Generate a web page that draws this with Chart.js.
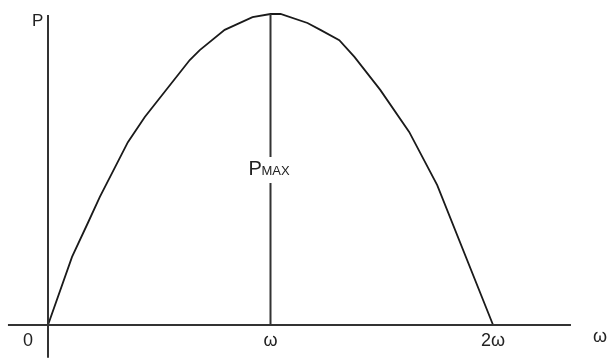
<!DOCTYPE html>
<html>
<head>
<meta charset="utf-8">
<title>P - ω</title>
<script src="https://cdn.jsdelivr.net/npm/chart.js@4.4.1/dist/chart.umd.min.js"></script>
<style>
  html, body { margin: 0; padding: 0; background: #fff; }
  canvas { display: block; }
</style>
</head>
<body>
<canvas id="curvaChart" width="607" height="360"></canvas>
<script>
// ========================
// DATOS
// ========================
const curveX = [0, 0.108, 0.179, 0.233, 0.359, 0.435, 0.637, 0.682, 0.794, 0.919, 1.0, 1.045, 1.166, 1.224, 1.309, 1.377, 1.493, 1.623, 1.749, 2.0];
const curveY = [0, 0.219, 0.328, 0.412, 0.588, 0.669, 0.852, 0.884, 0.949, 0.990, 1.0, 1.0, 0.971, 0.949, 0.916, 0.862, 0.756, 0.621, 0.450, 0];

const tickValues = [0, 1, 2];
const tickLabels = ["0", "ω", "2ω"];
const axisLabelY = "P";
const axisLabelX = "ω";

// rango de las escalas
const xMin = -0.2157, xMax = 2.512;
const yMin = -0.1125, yMax = 1.045;

// ========================
// EJES Y TEXTOS
// ========================
const ejesPlugin = {
  id: "ejes",
  afterDatasetsDraw(chart) {
    const ctx = chart.ctx;
    const xs = chart.scales.x;
    const ys = chart.scales.y;
    const x0 = xs.getPixelForValue(0);
    const y0 = ys.getPixelForValue(0);

    ctx.save();
    ctx.strokeStyle = "#333";
    ctx.lineWidth = 2;

    // eje x
    ctx.beginPath();
    ctx.moveTo(xs.getPixelForValue(-0.18), y0);
    ctx.lineTo(xs.getPixelForValue(2.35), y0);
    ctx.stroke();

    // eje y
    ctx.beginPath();
    ctx.moveTo(x0, ys.getPixelForValue(0.997));
    ctx.lineTo(x0, ys.getPixelForValue(-0.105));
    ctx.stroke();

    // linea de Pmax
    const iMax = curveY.indexOf(Math.max(...curveY));
    const xp = Math.round(xs.getPixelForValue(curveX[iMax])) - 0.5;
    const yTop = ys.getPixelForValue(curveY[iMax]);
    ctx.beginPath();
    ctx.moveTo(xp, yTop);
    ctx.lineTo(xp, ys.getPixelForValue(0.54));
    ctx.moveTo(xp, ys.getPixelForValue(0.457));
    ctx.lineTo(xp, y0);
    ctx.stroke();

    // textos
    ctx.fillStyle = "#222";
    ctx.textBaseline = "middle";
    ctx.font = '18px "Liberation Sans", Arial, sans-serif';

    ctx.textAlign = "center";
    tickLabels.forEach((t, i) => {
      let px = xs.getPixelForValue(tickValues[i]);
      if (tickValues[i] === 0) px -= 20;
      ctx.fillText(t, px, y0 + 16);
    });

    ctx.textAlign = "left";
    ctx.fillText(axisLabelX, 593, y0 + 12);

    ctx.font = '17px "Liberation Sans", Arial, sans-serif';
    ctx.fillText(axisLabelY, x0 - 16, ys.getPixelForValue(0.978));

    // PMAX
    const yMid = ys.getPixelForValue(0.5);
    ctx.font = '20px "Liberation Sans", Arial, sans-serif';
    ctx.fillText("P", xp - 22, yMid);
    ctx.font = '13px "Liberation Sans", Arial, sans-serif';
    ctx.fillText("MAX", xp - 9, yMid + 2);

    ctx.restore();
  }
};

// ========================
// GRAFICO
// ========================
const ctx = document.getElementById("curvaChart").getContext("2d");
new Chart(ctx, {
  type: "scatter",
  data: {
    datasets: [{
      label: "P",
      data: curveX.map((x, i) => ({ x: x, y: curveY[i] })),
      showLine: true,
      borderColor: "#1a1a1a",
      borderWidth: 1.8,
      pointRadius: 0,
      tension: 0
    }]
  },
  options: {
    responsive: false,
    animation: false,
    plugins: {
      legend: { display: false },
      tooltip: { enabled: false }
    },
    scales: {
      x: { type: "linear", display: false, min: xMin, max: xMax },
      y: { type: "linear", display: false, min: yMin, max: yMax }
    }
  },
  plugins: [ejesPlugin]
});
</script>
</body>
</html>
